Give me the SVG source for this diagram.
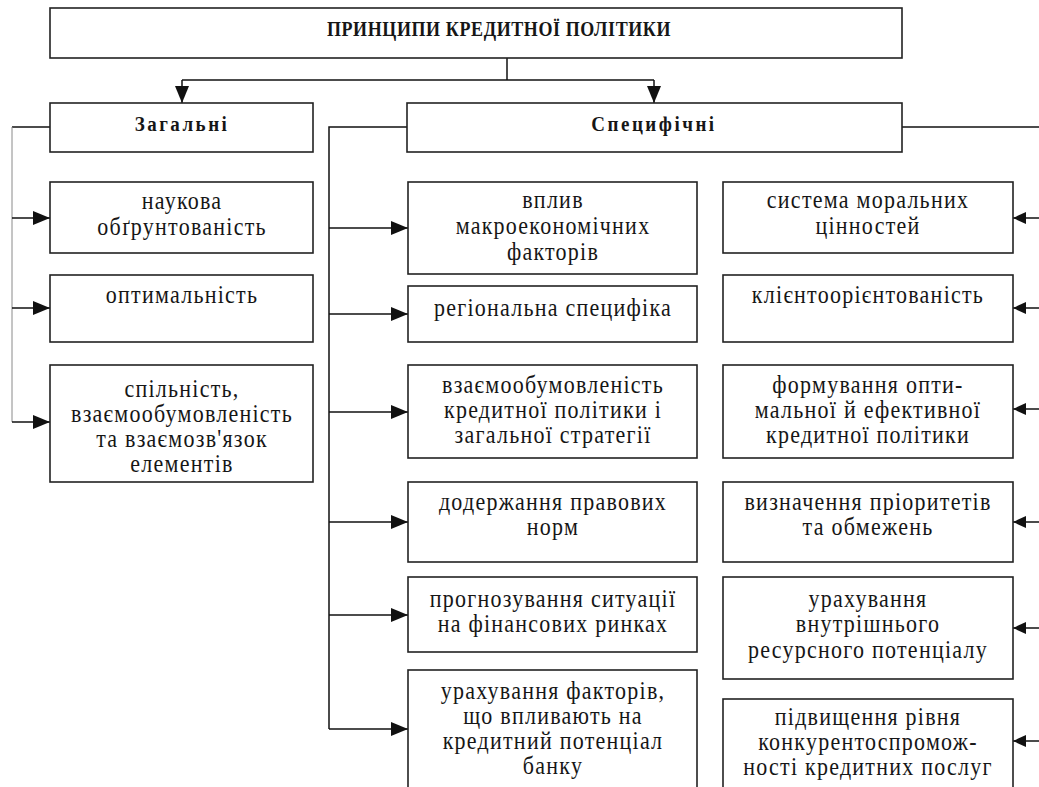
<svg xmlns="http://www.w3.org/2000/svg" width="1039" height="787" viewBox="0 0 1039 787">
  <style>
    .box { fill: #ffffff; stroke: #222222; stroke-width: 1.6; }
    text { font-family: "Liberation Serif", "Times New Roman", serif; fill: #161616; text-anchor: middle; }
    .t { font-size: 22px; letter-spacing: 1.25px; }
    .h { font-size: 19px; font-weight: bold; letter-spacing: 2.5px; }
    .ttl { font-size: 18px; font-weight: bold; letter-spacing: 0.6px; }
    .ln { fill: none; stroke: #111111; stroke-width: 1.5; }
    .gray { fill: none; stroke: #8a8a8a; stroke-width: 1; }
  </style>
  <defs>
    <marker id="arr" markerUnits="userSpaceOnUse" markerWidth="17" markerHeight="15" refX="17" refY="7" orient="auto">
      <path d="M0,0 L17,7 L0,14 z" fill="#111111"/>
    </marker>
    <marker id="arrS" markerUnits="userSpaceOnUse" markerWidth="13" markerHeight="13" refX="13" refY="6" orient="auto">
      <path d="M0,0 L13,6 L0,12 z" fill="#111111"/>
    </marker>
  </defs>

  <rect width="1039" height="787" fill="#ffffff"/>

  <!-- connectors -->
  <g id="connectors">
    <!-- title to the two groups -->
    <path class="ln" d="M507,58 V80"/>
    <path class="ln" d="M182,80 H654"/>
    <path class="ln" d="M182,80 V103" marker-end="url(#arr)"/>
    <path class="ln" d="M654,80 V103" marker-end="url(#arr)"/>

    <!-- general principles bus -->
    <path class="ln" d="M50,127 H12"/>
    <path class="gray" d="M12,127 V422"/>
    <path class="ln" d="M12,218 H50" marker-end="url(#arr)"/>
    <path class="ln" d="M12,308 H50" marker-end="url(#arr)"/>
    <path class="ln" d="M12,422 H50" marker-end="url(#arr)"/>

    <!-- specific principles, left bus -->
    <path class="ln" d="M407,127 H329 V729"/>
    <path class="ln" d="M329,228 H408" marker-end="url(#arr)"/>
    <path class="ln" d="M329,314 H408" marker-end="url(#arr)"/>
    <path class="ln" d="M329,412 H408" marker-end="url(#arr)"/>
    <path class="ln" d="M329,522 H408" marker-end="url(#arr)"/>
    <path class="ln" d="M329,615 H408" marker-end="url(#arr)"/>
    <path class="ln" d="M329,729 H408" marker-end="url(#arr)"/>

    <!-- specific principles, right bus -->
    <path class="ln" d="M902,127 H1039"/>
    <path class="ln" d="M1039,218 H1013" marker-end="url(#arrS)"/>
    <path class="ln" d="M1039,308 H1013" marker-end="url(#arrS)"/>
    <path class="ln" d="M1039,409 H1013" marker-end="url(#arrS)"/>
    <path class="ln" d="M1039,522 H1013" marker-end="url(#arrS)"/>
    <path class="ln" d="M1039,628 H1013" marker-end="url(#arrS)"/>
    <path class="ln" d="M1039,741 H1013" marker-end="url(#arrS)"/>
  </g>

  <!-- title -->
  <g id="title">
    <rect class="box" x="50" y="8" width="852" height="50"/>
    <text class="ttl" transform="translate(499,36) scale(1,1.14)">ПРИНЦИПИ КРЕДИТНОЇ ПОЛІТИКИ</text>
  </g>

  <g id="general">
    <rect class="box" x="50" y="103" width="263" height="49"/>
    <text class="h" transform="translate(182,131) scale(1,1.14)">Загальні</text>
  </g>

  <g id="specific">
    <rect class="box" x="407" y="103" width="495" height="49"/>
    <text class="h" transform="translate(654,131) scale(1,1.14)">Специфічні</text>
  </g>

  <!-- general column -->
  <g id="g1">
    <rect class="box" x="50" y="182" width="263" height="71"/>
    <text class="t" transform="translate(182,209) scale(1,1.14)">наукова</text>
    <text class="t" transform="translate(182,235) scale(1,1.14)">обґрунтованість</text>
  </g>
  <g id="g2">
    <rect class="box" x="50" y="275" width="263" height="67"/>
    <text class="t" transform="translate(182,303) scale(1,1.14)">оптимальність</text>
  </g>
  <g id="g3">
    <rect class="box" x="50" y="365" width="263" height="117"/>
    <text class="t" transform="translate(182,397) scale(1,1.14)">спільність,</text>
    <text class="t" transform="translate(182,422) scale(1,1.14)">взаємообумовленість</text>
    <text class="t" transform="translate(182,447) scale(1,1.14)">та взаємозв'язок</text>
    <text class="t" transform="translate(182,472) scale(1,1.14)">елементів</text>
  </g>

  <!-- specific, middle column -->
  <g id="m1">
    <rect class="box" x="408" y="182" width="289" height="92"/>
    <text class="t" transform="translate(553,208) scale(1,1.14)">вплив</text>
    <text class="t" transform="translate(553,234) scale(1,1.14)">макроекономічних</text>
    <text class="t" transform="translate(553,260) scale(1,1.14)">факторів</text>
  </g>
  <g id="m2">
    <rect class="box" x="408" y="286" width="289" height="56"/>
    <text class="t" transform="translate(553,316) scale(1,1.14)">регіональна специфіка</text>
  </g>
  <g id="m3">
    <rect class="box" x="408" y="365" width="289" height="93"/>
    <text class="t" transform="translate(553,393) scale(1,1.14)">взаємообумовленість</text>
    <text class="t" transform="translate(553,418) scale(1,1.14)">кредитної політики і</text>
    <text class="t" transform="translate(553,443) scale(1,1.14)">загальної стратегії</text>
  </g>
  <g id="m4">
    <rect class="box" x="408" y="482" width="289" height="80"/>
    <text class="t" transform="translate(553,510) scale(1,1.14)">додержання правових</text>
    <text class="t" transform="translate(553,535) scale(1,1.14)">норм</text>
  </g>
  <g id="m5">
    <rect class="box" x="408" y="577" width="289" height="75"/>
    <text class="t" transform="translate(553,607) scale(1,1.14)">прогнозування ситуації</text>
    <text class="t" transform="translate(553,632) scale(1,1.14)">на фінансових ринках</text>
  </g>
  <g id="m6">
    <rect class="box" x="408" y="670" width="289" height="130"/>
    <text class="t" transform="translate(553,699) scale(1,1.14)">урахування факторів,</text>
    <text class="t" transform="translate(553,724) scale(1,1.14)">що впливають на</text>
    <text class="t" transform="translate(553,749) scale(1,1.14)">кредитний потенціал</text>
    <text class="t" transform="translate(553,774) scale(1,1.14)">банку</text>
  </g>

  <!-- specific, right column -->
  <g id="r1">
    <rect class="box" x="723" y="182" width="290" height="71"/>
    <text class="t" transform="translate(868,208) scale(1,1.14)">система моральних</text>
    <text class="t" transform="translate(868,234) scale(1,1.14)">цінностей</text>
  </g>
  <g id="r2">
    <rect class="box" x="723" y="275" width="290" height="67"/>
    <text class="t" transform="translate(868,303) scale(1,1.14)">клієнтоорієнтованість</text>
  </g>
  <g id="r3">
    <rect class="box" x="723" y="365" width="290" height="93"/>
    <text class="t" transform="translate(868,393) scale(1,1.14)">формування опти-</text>
    <text class="t" transform="translate(868,418) scale(1,1.14)">мальної й ефективної</text>
    <text class="t" transform="translate(868,443) scale(1,1.14)">кредитної політики</text>
  </g>
  <g id="r4">
    <rect class="box" x="723" y="482" width="290" height="80"/>
    <text class="t" transform="translate(868,510) scale(1,1.14)">визначення пріоритетів</text>
    <text class="t" transform="translate(868,535) scale(1,1.14)">та обмежень</text>
  </g>
  <g id="r5">
    <rect class="box" x="723" y="577" width="290" height="102"/>
    <text class="t" transform="translate(868,607) scale(1,1.14)">урахування</text>
    <text class="t" transform="translate(868,632) scale(1,1.14)">внутрішнього</text>
    <text class="t" transform="translate(868,658) scale(1,1.14)">ресурсного потенціалу</text>
  </g>
  <g id="r6">
    <rect class="box" x="723" y="699" width="290" height="100"/>
    <text class="t" transform="translate(868,725) scale(1,1.14)">підвищення рівня</text>
    <text class="t" transform="translate(868,750) scale(1,1.14)">конкурентоспромож-</text>
    <text class="t" transform="translate(868,775) scale(1,1.14)">ності кредитних послуг</text>
  </g>
</svg>
